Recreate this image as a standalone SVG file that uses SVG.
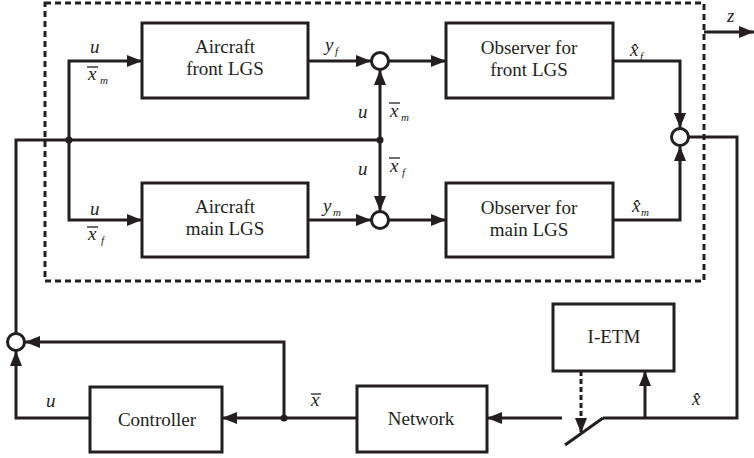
<svg xmlns="http://www.w3.org/2000/svg" width="754" height="458" viewBox="0 0 754 458">
<style>
.box{fill:#fff;stroke:#231f20;stroke-width:3}
.ln{fill:none;stroke:#231f20;stroke-width:3}
.arr{fill:none;stroke:#231f20;stroke-width:3;marker-end:url(#ah)}
.sum{fill:#fff;stroke:#231f20;stroke-width:3}
.dot{fill:#231f20}
.t{font-family:"Liberation Serif","Times New Roman",serif;font-size:19px;fill:#231f20;text-anchor:middle}
.v{font-family:"Liberation Serif","Times New Roman",serif;font-size:19px;font-style:italic;fill:#231f20}
.s{font-size:11px}
.ob{stroke:#231f20;stroke-width:1.3}
</style>
<defs>
<marker id="ah" markerUnits="userSpaceOnUse" markerWidth="16" markerHeight="12" refX="15" refY="6" orient="auto">
<path d="M0,0 L15,6 L0,12 z" fill="#231f20"/>
</marker>
</defs>
<rect x="45" y="3" width="659" height="278" fill="none" stroke="#231f20" stroke-width="3" stroke-dasharray="6,4"/>
<g id="connectors">
<path class="arr" d="M69,140 V61 H142"/>
<path class="arr" d="M69,140 V220 H142"/>
<path class="ln" d="M16,334 V140 H380"/>
<path class="arr" d="M380,140 V70"/>
<path class="arr" d="M380,140 V211"/>
<path class="arr" d="M308,61 H371"/>
<path class="arr" d="M308,220 H371"/>
<path class="arr" d="M389,61 H446"/>
<path class="arr" d="M389,220 H446"/>
<path class="arr" d="M613,61 H680 V128"/>
<path class="arr" d="M613,220 H680 V146"/>
<path class="ln" d="M689,137 H737 V418 H603"/>
<path class="ln" d="M565,445 L603,418"/>
<path class="arr" d="M645,418 V371"/>
<path class="arr" d="M581,371 V433" stroke-dasharray="5,3"/>
<path class="arr" d="M562,418 H487"/>
<path class="arr" d="M357,418 H222"/>
<path class="arr" d="M284,418 V342 H25"/>
<path class="arr" d="M90,418 H16 V351"/>
<path class="arr" d="M704,32 H754"/>
<circle class="dot" cx="69" cy="140" r="3.5"/>
<circle class="dot" cx="380" cy="140" r="3.5"/>
<circle class="dot" cx="284" cy="418" r="3.5"/>
</g>
<g id="sum-front"><circle class="sum" cx="380" cy="61" r="8.5"/></g>
<g id="sum-main"><circle class="sum" cx="380" cy="220" r="8.5"/></g>
<g id="sum-out"><circle class="sum" cx="680" cy="137" r="8.5"/></g>
<g id="sum-ctrl"><circle class="sum" cx="16" cy="342" r="8.5"/></g>
<g id="aircraft-front">
<rect class="box" x="142" y="23" width="166" height="75"/>
<text class="t" x="225" y="53">Aircraft</text>
<text class="t" x="225" y="75">front LGS</text>
</g>
<g id="aircraft-main">
<rect class="box" x="142" y="183" width="166" height="74"/>
<text class="t" x="225" y="213">Aircraft</text>
<text class="t" x="225" y="235">main LGS</text>
</g>
<g id="observer-front">
<rect class="box" x="446" y="23" width="167" height="75"/>
<text class="t" x="529" y="54">Observer for</text>
<text class="t" x="529" y="76">front LGS</text>
</g>
<g id="observer-main">
<rect class="box" x="446" y="183" width="167" height="74"/>
<text class="t" x="529" y="214">Observer for</text>
<text class="t" x="529" y="236">main LGS</text>
</g>
<g id="controller">
<rect class="box" x="90" y="387" width="132" height="65"/>
<text class="t" x="157" y="426">Controller</text>
</g>
<g id="network">
<rect class="box" x="357" y="386" width="130" height="66"/>
<text class="t" x="421" y="425">Network</text>
</g>
<g id="ietm">
<rect class="box" x="553" y="304" width="121" height="67"/>
<text class="t" x="614" y="343">I-ETM</text>
</g>
<g id="labels">
<text class="v" x="90" y="53">u</text>
<text class="v" x="88" y="80">x</text><text class="v s" x="100" y="84">m</text>
<line class="ob" x1="87" y1="67" x2="98" y2="67"/>
<text class="v" x="90" y="215">u</text>
<text class="v" x="88" y="240">x</text><text class="v s" x="101" y="244">f</text>
<line class="ob" x1="87" y1="227" x2="98" y2="227"/>
<text class="v" x="325" y="51">y</text><text class="v s" x="335" y="55">f</text>
<text class="v" x="323" y="212">y</text><text class="v s" x="333" y="216">m</text>
<text class="v" x="358" y="118">u</text>
<text class="v" x="390" y="117">x</text><text class="v s" x="401" y="121">m</text>
<line class="ob" x1="389" y1="103" x2="400" y2="103"/>
<text class="v" x="358" y="175">u</text>
<text class="v" x="390" y="172">x</text><text class="v s" x="402" y="176">f</text>
<line class="ob" x1="389" y1="158" x2="400" y2="158"/>
<text class="v" x="630" y="56">x̂</text><text class="v s" x="640" y="60">f</text>
<text class="v" x="632" y="212">x̂</text><text class="v s" x="641" y="216">m</text>
<text class="v" x="727" y="22">z</text>
<text class="v" x="311" y="406">x</text>
<line class="ob" x1="311" y1="394" x2="321" y2="394"/>
<text class="v" x="46" y="407">u</text>
<text class="v" x="692" y="405">x̂</text>
</g>
</svg>
